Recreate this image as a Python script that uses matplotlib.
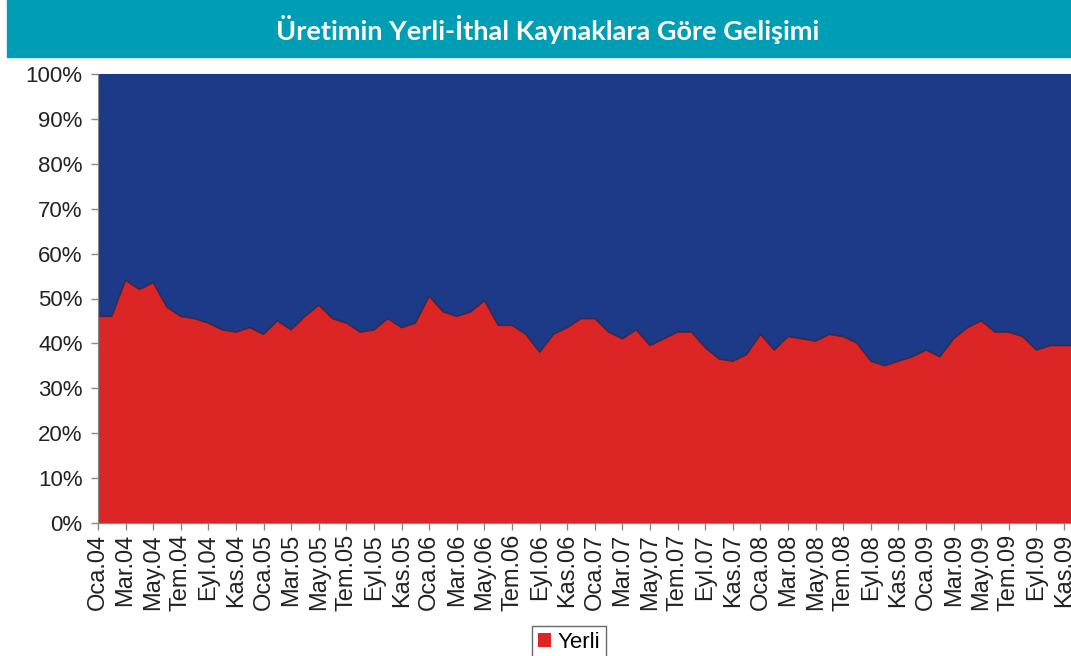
import numpy as np
import matplotlib.pyplot as plt
from matplotlib.patches import Rectangle

# monthly share of domestic (Yerli) production, Oca.04 .. Ara.09, in %
yerli = [46, 46, 54, 52, 53.5, 48, 46, 45.5, 44.5, 43, 42.5, 43.5,
         42, 45, 43, 46, 48.5, 45.5, 44.5, 42.5, 43, 45.5, 43.5, 44.5,
         50.5, 47, 46, 47, 49.5, 44, 44, 42, 38, 42, 43.5, 45.5,
         45.5, 42.5, 41, 43, 39.5, 41, 42.5, 42.5, 39, 36.5, 36, 37.5,
         42, 38.5, 41.5, 41, 40.5, 42, 41.5, 40, 36, 35, 36, 37,
         38.5, 37, 41, 43.5, 45, 42.5, 42.5, 41.5, 38.5, 39.5, 39.5, 39.5]
months = ['Oca', 'Şub', 'Mar', 'Nis', 'May', 'Haz', 'Tem', 'Ağu', 'Eyl', 'Eki', 'Kas', 'Ara']
years = ['04', '05', '06', '07', '08', '09']
tick_labels = [f"{m}.{y}" for y in years for m in months][:len(yerli)]

yerli = np.array(yerli)
ithal = 100 - yerli
x = np.arange(len(yerli))

red = '#DC2626'
navy = '#1C3A87'

fig = plt.figure(figsize=(10.71, 6.56), dpi=100)

# title banner
fig.patches.append(Rectangle((7 / 1071, 1 - 57 / 656), 1, 57 / 656,
                             transform=fig.transFigure, color='#009EB5', zorder=0))
fig.text(548 / 1071, 1 - 29 / 656, 'Üretimin Yerli-İthal Kaynaklara Göre Gelişimi',
         ha='center', va='center', color='white', fontsize=19.5, fontweight='bold',
         family='Lato')

ax = fig.add_axes([98 / 1071, 1 - 523 / 656, (1071 - 98) / 1071, (523 - 74) / 656])
ax.stackplot(x, yerli, ithal, colors=[red, navy], labels=['Yerli', 'İthal'])
ax.plot(x, yerli, color='#3a1a30', lw=1.0, alpha=0.8)

ax.set_xlim(0, 70.5)
ax.set_ylim(0, 100)
ax.set_yticks(np.arange(0, 101, 10))
ax.set_yticklabels([f"{v}%" for v in range(0, 101, 10)], family='Liberation Sans',
                   fontsize=16, color='#222222')
ax.set_xticks(x[::2][:36])
ax.set_xticklabels(tick_labels[::2][:36], rotation=90, family='Liberation Sans',
                   fontsize=17, color='#222222')
ax.tick_params(axis='both', length=5, color='#888888', width=1)
ax.tick_params(axis='x', pad=3)
ax.tick_params(axis='y', pad=6)

for s in ['top', 'right']:
    ax.spines[s].set_visible(False)
ax.spines['left'].set_color('#888888')
ax.spines['bottom'].set_color('#888888')

handles, labels = ax.get_legend_handles_labels()
leg = fig.legend(handles[:1], labels[:1], loc='upper left',
                 bbox_to_anchor=(532 / 1071, 1 - 626 / 656), ncol=1,
                 frameon=True, fancybox=False, edgecolor='#444444',
                 prop={'family': 'Liberation Sans', 'size': 16},
                 handlelength=0.6, handleheight=0.6, handletextpad=0.3,
                 borderpad=0.25, borderaxespad=0, labelspacing=0.3)
leg.get_frame().set_linewidth(1.0)

fig.savefig('out.png', dpi=100)
